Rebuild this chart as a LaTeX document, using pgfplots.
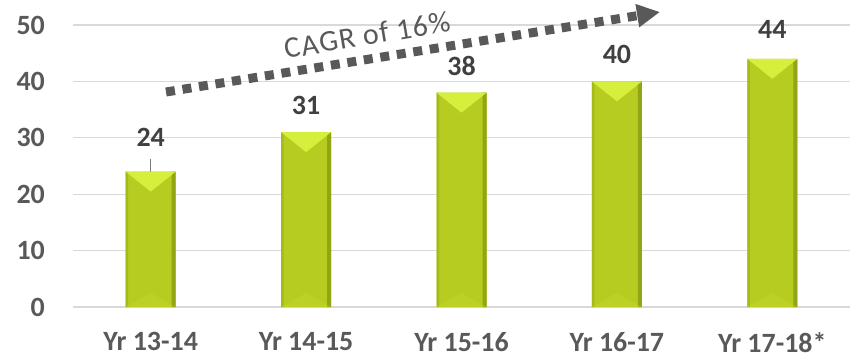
\documentclass[border=0pt]{standalone}
\usepackage{fontspec}
\setmainfont{Carlito}
\usepackage{pgfplots}
\pgfplotsset{compat=1.18}
\usepackage{pgfplotstable}
\usetikzlibrary{arrows.meta}

\definecolor{gridgray}{HTML}{D9D9D9}
\definecolor{labelgray}{HTML}{595959}
\definecolor{valuegray}{HTML}{404040}
\definecolor{barmain}{HTML}{B7CC20}
\definecolor{barleftedge}{HTML}{A6BA19}
\definecolor{baredge}{HTML}{93A414}
\definecolor{bartop}{HTML}{D6EE3C}
\definecolor{barfoot}{HTML}{C8DE30}

% bevel facets for the top and the foot of each bar
\pgfdeclareplotmark{bevtop}{%
  \pgfpathmoveto{\pgfqpoint{-25bp}{0bp}}%
  \pgfpathlineto{\pgfqpoint{25bp}{0bp}}%
  \pgfpathlineto{\pgfqpoint{0bp}{-20bp}}%
  \pgfpathclose\pgfusepathqfill}
\pgfdeclareplotmark{bevfoot}{%
  \pgfpathmoveto{\pgfqpoint{-25bp}{0bp}}%
  \pgfpathlineto{\pgfqpoint{25bp}{0bp}}%
  \pgfpathlineto{\pgfqpoint{0bp}{14bp}}%
  \pgfpathclose\pgfusepathqfill}

% year, value, bar foot, label offset above the bar top (bp)
\pgfplotstableread{
x growth base dy
0 24 0 34
1 31 0 27
2 38 0 27
3 40 0 27
4 44 0 29
}\growthdata

\begin{document}
\begin{tikzpicture}[x=1bp,y=1bp]
\useasboundingbox (0,0) rectangle (856,362);
\begin{axis}[
  at={(73bp,55bp)}, anchor=south west,
  scale only axis, width=777bp, height=282bp,
  xmin=-0.5, xmax=4.5, ymin=0, ymax=50,
  xtick=data,
  xticklabels={Yr 13-14,Yr 14-15,Yr 15-16,Yr 16-17,Yr 17-18*},
  ytick={0,10,20,30,40,50},
  axis line style={draw=none},
  tick style={draw=none},
  ymajorgrids,
  grid style={gridgray, line width=1.2bp},
  /pgf/number format/assume math mode=true,
  ticklabel style={font=\fontsize{28}{30}\selectfont\bfseries, text=labelgray, inner sep=0pt},
  yticklabel style={anchor=east, xshift=-28bp},
  xticklabel style={anchor=north, yshift=-25bp},
  clip=false,
]
\addplot[
  ybar, bar width=50bp,
  draw=none, fill=barmain,
  visualization depends on={\thisrow{dy} \as \labelshift},
  nodes near coords,
  every node near coord/.append style={
    anchor=center, yshift=\labelshift bp,
    font=\fontsize{28}{30}\selectfont\bfseries, text=valuegray},
] table[x=x, y=growth] {\growthdata};
% shaded side edges of each bar
\addplot[ybar, bar width=2.5bp, bar shift=-23.75bp, fill=barleftedge, draw=none]
  table[x=x, y=growth] {\growthdata};
\addplot[ybar, bar width=4bp, bar shift=23bp, fill=baredge, draw=none]
  table[x=x, y=growth] {\growthdata};
\addplot[only marks, mark=bevfoot, mark options={fill=barfoot, draw=none, fill opacity=0.3}]
  table[x=x, y=base] {\growthdata};
\addplot[only marks, mark=bevtop, mark options={fill=bartop, draw=none}]
  table[x=x, y=growth] {\growthdata};
% leader line from the first label down to its bar
\draw[labelgray!80, line width=1bp] (axis cs:0,24) -- ++(0bp,13bp);
\end{axis}
% growth trend arrow with its caption
\draw[labelgray, line width=9bp, dash pattern=on 9bp off 7.7bp,
  -{Triangle[length=23bp, width=22bp]}] (166,270) -- (660,350);
\node[rotate=9.5, text=labelgray, font=\fontsize{30}{32}\selectfont\addfontfeatures{LetterSpace=4}] at (367,327) {CAGR of 16\%};
\end{tikzpicture}
\end{document}
